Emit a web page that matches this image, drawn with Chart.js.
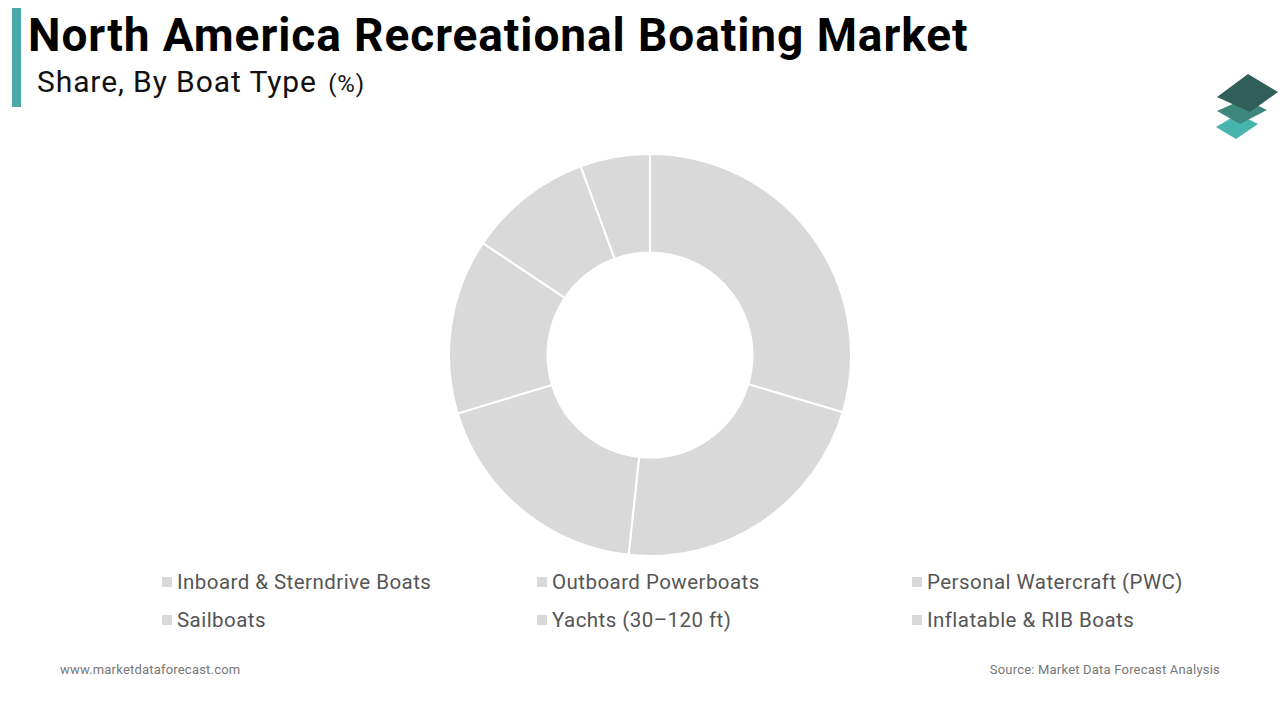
<!DOCTYPE html>
<html><head><meta charset="utf-8">
<script src="https://cdn.jsdelivr.net/npm/chart.js@4"></script>
<style>
html,body{margin:0;padding:0;background:#fff;width:1280px;height:720px;overflow:hidden;font-family:Roboto,"Noto Sans",sans-serif;}
#bar{position:absolute;left:12px;top:8px;width:9px;height:99px;background:#4aa9a9;}
#title{position:absolute;left:28px;top:8px;font-size:46px;font-weight:700;color:#000;white-space:nowrap;letter-spacing:0.93px;}
#sub{position:absolute;left:37px;top:64px;font-size:30px;color:#111;white-space:nowrap;letter-spacing:0.9px;}
#sub span{font-size:24px;margin-left:3px;}
#wrap{position:absolute;left:448px;top:153px;width:404px;height:404px;}
#legend{position:absolute;left:162px;top:570px;width:1100px;}
.li{position:absolute;font-size:20.5px;color:#555;white-space:nowrap;letter-spacing:0.45px;}
.li i{display:inline-block;width:10px;height:10px;background:#d9d9d9;margin-right:5px;vertical-align:middle;position:relative;top:-2px;}
#foot1{position:absolute;left:60px;top:662px;font-size:13px;color:#777;letter-spacing:0.2px;}
#foot2{position:absolute;right:60px;top:662px;font-size:13px;color:#777;letter-spacing:0.2px;}
#logo{position:absolute;left:1205px;top:65px;}
</style></head><body>
<div id="bar"></div>
<div id="title">North America Recreational Boating Market</div>
<div id="sub">Share, By Boat Type <span>(%)</span></div>
<svg id="logo" width="80" height="80" viewBox="1205 65 80 80">
<polygon points="1216,127 1238,114 1258,124 1236,139" fill="#47b4ae"/>
<polygon points="1217,111 1244,99 1267,110 1240,124" fill="#3e877f"/>
<polygon points="1217,97 1248,74 1278,92 1250,112" fill="#2f5f58"/>
</svg>
<div id="wrap"><canvas id="c"></canvas></div>
<div id="legend"></div>
<div id="foot1">www.marketdataforecast.com</div>
<div id="foot2">Source: Market Data Forecast Analysis</div>
<script>
const categories = ["Inboard & Sterndrive Boats","Outboard Powerboats","Personal Watercraft (PWC)","Sailboats","Yachts (30\u2013120 ft)","Inflatable & RIB Boats"];
const shares = [29.6, 22.1, 18.6, 14.1, 10.0, 5.6];
const sliceColor = "#d9d9d9";

const lg = document.getElementById('legend');
categories.forEach((c,i)=>{
  const d=document.createElement('div');
  d.className='li';
  d.style.left=(i%3)*375+'px';
  d.style.top=Math.floor(i/3)*38+'px';
  d.innerHTML='<i></i>'+c.replace(/&/g,'&amp;');
  lg.appendChild(d);
});

new Chart(document.getElementById('c'),{
  type:'doughnut',
  data:{labels:categories,datasets:[{data:shares,backgroundColor:categories.map(()=>sliceColor),borderColor:'#ffffff',borderWidth:2}]},
  options:{responsive:true,maintainAspectRatio:false,animation:false,cutout:'51%',
    layout:{padding:0},
    plugins:{legend:{display:false},tooltip:{enabled:false}}}
});
</script>
</body></html>
